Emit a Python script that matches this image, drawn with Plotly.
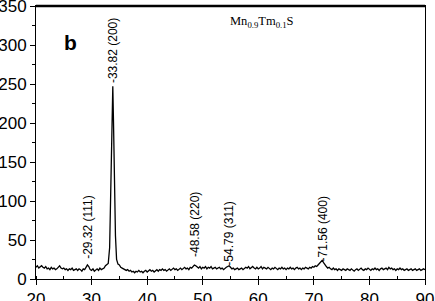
import plotly.graph_objects as go

# Baseline diffraction counts, 2theta from 20 to 90 in 0.25 deg steps
base_start = 20.0
base_step = 0.25
base_counts = [
    15, 17, 14, 16, 17, 15, 14, 16, 13,            # 20.00-22.00
    14, 12, 15, 13, 14, 12, 13, 15, 17, 14, 13, 14,  # 22.25-25.00
    12, 13, 11, 13, 12, 14, 11, 12, 13, 11, 13, 12,  # 25.25-28.00
    10, 13, 12, 15, 18, 16, 12, 11, 13, 10, 12, 13,  # 28.25-31.00
    11, 14, 12, 13, 14, 17, 19, 22, 35, 110, 220, 190,  # 31.25-34.00
    90, 32, 22, 18, 15, 14, 13, 12, 11, 12, 10, 11,  # 34.25-37.00
    9, 10, 8, 10, 9, 11, 9, 10, 8, 10, 11, 9,        # 37.25-40.00
    10, 12, 10, 11, 9, 11, 12, 10, 12, 11, 13, 11,   # 40.25-43.00
    12, 10, 12, 13, 11, 12, 14, 12, 13, 11, 13, 14,  # 43.25-46.00
    12, 13, 15, 13, 14, 12, 15, 14, 16, 18, 17, 15,  # 46.25-49.00
    14, 16, 13, 15, 14, 16, 13, 15, 14, 16, 13, 14,  # 49.25-52.00
    15, 13, 14, 15, 13, 14, 12, 14, 15, 16, 17, 15,  # 52.25-55.00
    13, 14, 12, 13, 14, 12, 13, 14, 12, 13, 15, 14,  # 55.25-58.00
    16, 13, 15, 16, 14, 13, 15, 13, 14, 16, 13, 15,  # 58.25-61.00
    14, 13, 15, 14, 12, 14, 13, 15, 13, 12, 14, 13,  # 61.25-64.00
    15, 13, 14, 12, 14, 13, 15, 13, 14, 12, 14, 15,  # 64.25-67.00
    13, 14, 12, 14, 13, 15, 14, 13, 15, 14, 16, 15,  # 67.25-70.00
    17, 16, 18, 20, 22, 24, 21, 18, 16, 14, 15, 13,  # 70.25-73.00
    12, 14, 12, 13, 11, 13, 12, 11, 13, 12, 11, 13,  # 73.25-76.00
    12, 11, 13, 12, 10, 12, 13, 11, 12, 14, 12, 11,  # 76.25-79.00
    13, 12, 14, 12, 11, 13, 12, 14, 12, 13, 11, 13,  # 79.25-82.00
    14, 12, 13, 14, 12, 15, 13, 14, 12, 13, 11, 13,  # 82.25-85.00
    12, 14, 12, 13, 11, 12, 13, 11, 12, 13, 11, 12,  # 85.25-88.00
    13, 11, 12, 13, 11, 12, 13, 12,                  # 88.25-90.00
]

# Finer sampling across the (200) peak
peak_theta = [33.00, 33.25, 33.50, 33.70, 33.82, 33.95, 34.10, 34.30, 34.50, 34.75]
peak_counts = [20, 40, 120, 215, 247, 200, 130, 55, 25, 19]

# Peak labels
label_theta = [29.32, 33.82, 48.58, 54.79, 71.56]
label_hkl = ["(111)", "(200)", "(220)", "(311)", "(400)"]
label_y = [23, 249, 26, 15, 20]

# Merge baseline with the peak detail
points = {}
for i, c in enumerate(base_counts):
    t = round(base_start + i * base_step, 2)
    if not (peak_theta[0] <= t <= peak_theta[-1]):
        points[t] = c
for t, c in zip(peak_theta, peak_counts):
    points[t] = c
theta = sorted(points)
counts = [points[t] for t in theta]

fig = go.Figure()
fig.add_trace(go.Scatter(x=theta, y=counts, mode="lines",
                         line=dict(color="black", width=1.3),
                         showlegend=False, hoverinfo="skip"))

for t, hkl, yy in zip(label_theta, label_hkl, label_y):
    fig.add_annotation(x=t, y=yy, xref="x", yref="y",
                       text=f"-{t:.2f} {hkl}", showarrow=False,
                       textangle=-90, xanchor="center", yanchor="bottom",
                       font=dict(family="Liberation Sans, Arial", size=12, color="black"))

fig.add_annotation(x=0.066, y=0.915, xref="paper", yref="paper",
                   text="<b>b</b>", showarrow=False,
                   font=dict(family="Liberation Sans, Arial", size=21, color="black"))
fig.add_annotation(x=0.58, y=0.978, xref="paper", yref="paper",
                   text="Mn<sub>0.9</sub>Tm<sub>0.1</sub>S", showarrow=False,
                   font=dict(family="Liberation Serif, Times New Roman", size=12.5, color="black"))

fig.add_shape(type="line", xref="paper", yref="paper", x0=0, x1=1, y0=1, y1=1,
              line=dict(color="black", width=2.5))

axis_font = dict(family="Liberation Sans, Arial", size=17, color="black")
fig.update_xaxes(range=[20, 90], dtick=10, tick0=20, ticks="outside", ticklen=5,
                 tickcolor="black", showline=True, linecolor="black", linewidth=1,
                 mirror=True, showgrid=False, zeroline=False, tickfont=axis_font,
                 automargin=False, ticklabeloverflow="allow",
                 minor=dict(dtick=5, ticks="inside", ticklen=3, tickcolor="black"))
fig.update_yaxes(range=[0, 350], dtick=50, ticks="outside", ticklen=5,
                 tickcolor="black", showline=True, linecolor="black", linewidth=1,
                 mirror=True, showgrid=False, zeroline=False, tickfont=axis_font,
                 automargin=False, ticklabeloverflow="allow",
                 minor=dict(dtick=25, ticks="outside", ticklen=3, tickcolor="black"))

fig.update_layout(width=435, height=301, margin=dict(l=36, r=10, t=6, b=22),
                  paper_bgcolor="white", plot_bgcolor="white")

fig.write_html("out.html", config={"displayModeBar": False},
               post_script="document.body.style.margin='0';document.body.style.overflow='hidden';")
